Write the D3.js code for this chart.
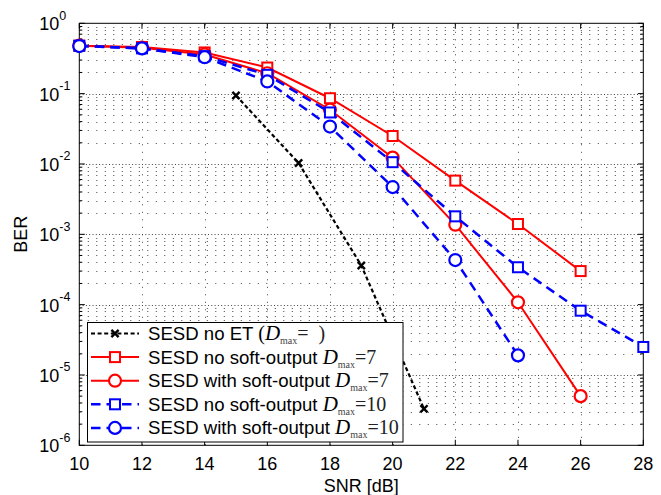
<!DOCTYPE html>
<html>
<head>
<meta charset="utf-8">
<script src="https://cdn.jsdelivr.net/npm/d3@7"></script>
<style>
  html, body { margin: 0; padding: 0; background: #fff; }
  svg { display: block; }
</style>
</head>
<body>
<div id="chart"></div>
<script>
// ---- data ----
const xTicks = [10, 12, 14, 16, 18, 20, 22, 24, 26, 28];
const yTickExps = [0, -1, -2, -3, -4, -5, -6];

const snrNoET = [15, 17, 19, 21];
const berNoET = [0.094, 0.0103, 3.6e-4, 3.3e-6];

const snrD7 = [10, 12, 14, 16, 18, 20, 22, 24, 26];
const berD7NoSoft = [0.48, 0.46, 0.385, 0.235, 0.086, 0.025, 0.0058, 0.0014, 0.0003];
const berD7Soft   = [0.48, 0.45, 0.36, 0.195, 0.059, 0.0123, 0.00137, 0.000108, 5e-6];

const snrD10NoSoft = [10, 12, 14, 16, 18, 20, 22, 24, 26, 28];
const berD10NoSoft = [0.48, 0.44, 0.34, 0.185, 0.054, 0.0106, 0.0018, 0.00034, 8.2e-5, 2.5e-5];

const snrD10Soft = [10, 12, 14, 16, 18, 20, 22, 24];
const berD10Soft = [0.475, 0.44, 0.33, 0.149, 0.034, 0.0047, 0.00043, 1.9e-5];

const legendPrefixes = [
  "SESD no ET ",
  "SESD no soft-output ",
  "SESD with soft-output ",
  "SESD no soft-output ",
  "SESD with soft-output "
];
const legendSuffixes = ["=  )", "=7", "=7", "=10", "=10"];

// ---- setup ----
const W = 661, H = 495;
const L = 79.3, R = 643.3, T = 23.3, B = 445.3;
const SERIF = "'Liberation Serif', 'Times New Roman', serif";

const svg = d3.select("#chart").append("svg")
  .attr("width", W).attr("height", H)
  .attr("font-family", "'Liberation Sans', Arial, Helvetica, sans-serif");

const x = d3.scaleLinear().domain([10, 28]).range([L, R]);
const y = d3.scaleLog().domain([1e-6, 1]).range([B, T]);

// ---- grid ----
const grid = svg.append("g").attr("stroke", "#444").attr("stroke-width", 1).attr("fill", "none");
xTicks.slice(1, -1).forEach(t => {
  const px = Math.round(x(t)) + 0.5;
  grid.append("line").attr("x1", px).attr("x2", px).attr("y1", B).attr("y2", T)
    .attr("stroke-dasharray", "1,6.5");
});
for (let e = -6; e < 0; e++) {
  for (let m = 1; m <= 9; m++) {
    const v = m * Math.pow(10, e);
    if (e === -6 && m === 1) continue;
    const py = Math.round(y(v)) + 0.5;
    grid.append("line").attr("x1", L).attr("x2", R).attr("y1", py).attr("y2", py)
      .attr("stroke-dasharray", m === 1 ? "1,2.3" : "1,7.5");
  }
}

// ---- axes box & ticks ----
const ax = svg.append("g").attr("stroke", "#000").attr("stroke-width", 1).attr("fill", "none");
ax.append("rect").attr("x", L).attr("y", T).attr("width", R - L).attr("height", B - T);
xTicks.forEach(t => {
  const px = x(t);
  ax.append("line").attr("x1", px).attr("x2", px).attr("y1", B).attr("y2", B - 5.5);
  ax.append("line").attr("x1", px).attr("x2", px).attr("y1", T).attr("y2", T + 5.5);
});
for (let e = -6; e <= 0; e++) {
  for (let m = 1; m <= 9; m++) {
    const v = m * Math.pow(10, e);
    if (v > 1) break;
    const py = y(v);
    const len = m === 1 ? 5.5 : 3;
    ax.append("line").attr("x1", L).attr("x2", L + len).attr("y1", py).attr("y2", py);
    ax.append("line").attr("x1", R).attr("x2", R - len).attr("y1", py).attr("y2", py);
  }
}

// tick labels
const xl = svg.append("g").attr("font-size", 18).attr("fill", "#000").attr("text-anchor", "middle");
xTicks.forEach(t => {
  xl.append("text").attr("x", x(t)).attr("y", 470).text(t);
});
const yl = svg.append("g").attr("font-size", 18).attr("fill", "#000");
yTickExps.forEach(e => {
  const tx = yl.append("text").attr("x", 39.3).attr("y", y(Math.pow(10, e)) + 7);
  tx.append("tspan").text("10");
  tx.append("tspan").attr("dy", -10.5).attr("font-size", 12.5).text(e === 0 ? "0" : "-" + Math.abs(e));
});

// axis titles
svg.append("text").attr("x", x(19)).attr("y", 492).attr("text-anchor", "middle")
  .attr("font-size", 18).text("SNR [dB]");
svg.append("text").attr("transform", `translate(26.5, ${(T + B) / 2}) rotate(-90)`)
  .attr("text-anchor", "middle").attr("font-size", 18).text("BER");

// ---- series ----
const series = [
  {xs: snrNoET, ys: berNoET, color: "#000", dash: "4,2.6", width: 2.2, marker: "x"},
  {xs: snrD7, ys: berD7NoSoft, color: "#ff0000", dash: null, width: 2, marker: "square"},
  {xs: snrD7, ys: berD7Soft, color: "#ff0000", dash: null, width: 2, marker: "circle"},
  {xs: snrD10NoSoft, ys: berD10NoSoft, color: "#0000ff", dash: "9.5,6", width: 2.5, marker: "square"},
  {xs: snrD10Soft, ys: berD10Soft, color: "#0000ff", dash: "9.5,6", width: 2.5, marker: "circle"}
];

function drawMarker(g, type, cx, cy, color) {
  if (type === "square") {
    g.append("rect").attr("x", cx - 5).attr("y", cy - 5).attr("width", 10).attr("height", 10)
      .attr("fill", "#fff").attr("stroke", color).attr("stroke-width", 2);
  } else if (type === "circle") {
    g.append("circle").attr("cx", cx).attr("cy", cy).attr("r", 6)
      .attr("fill", "#fff").attr("stroke", color).attr("stroke-width", 2.2);
  } else {
    const s = 3.6;
    g.append("path").attr("d", `M${cx - s},${cy - s}L${cx + s},${cy + s}M${cx - s},${cy + s}L${cx + s},${cy - s}`)
      .attr("stroke", color).attr("stroke-width", 2.4).attr("fill", "none");
  }
}

const plot = svg.append("g");
series.forEach(s => {
  const pts = s.xs.map((v, i) => [x(v), y(s.ys[i])]);
  plot.append("path").attr("d", d3.line()(pts))
    .attr("fill", "none").attr("stroke", s.color).attr("stroke-width", s.width)
    .attr("stroke-dasharray", s.dash);
  const mg = plot.append("g");
  pts.forEach(p => drawMarker(mg, s.marker, p[0], p[1], s.color));
});

// ---- legend ----
const lg = svg.append("g");
lg.append("rect").attr("x", 87.5).attr("y", 322.5).attr("width", 315.5).attr("height", 119.5)
  .attr("fill", "#fff").attr("stroke", "#000").attr("stroke-width", 1);
series.forEach((s, i) => {
  const ry = 333.5 + i * 23.6;
  lg.append("line").attr("x1", 91).attr("x2", 139).attr("y1", ry).attr("y2", ry)
    .attr("stroke", s.color).attr("stroke-width", s.width).attr("stroke-dasharray", s.dash);
  drawMarker(lg, s.marker, 115, ry, s.color);
  const t = lg.append("text").attr("x", 148).attr("y", ry + 6.5).attr("font-size", 18.6)
    .style("white-space", "pre");
  t.append("tspan").text(legendPrefixes[i]);
  if (i === 0) {
    t.append("tspan").attr("font-family", SERIF).attr("font-size", 20).text("(");
  }
  t.append("tspan").attr("font-family", SERIF)
    .attr("font-style", "italic").attr("font-size", 21).text("D");
  t.append("tspan").attr("font-family", SERIF)
    .attr("font-size", 10).attr("dy", 4).attr("fill", "#444").text("max");
  t.append("tspan").attr("font-family", SERIF)
    .attr("font-size", 20).attr("dy", -4).attr("fill", "#222").text(legendSuffixes[i]);
});
</script>
</body>
</html>
